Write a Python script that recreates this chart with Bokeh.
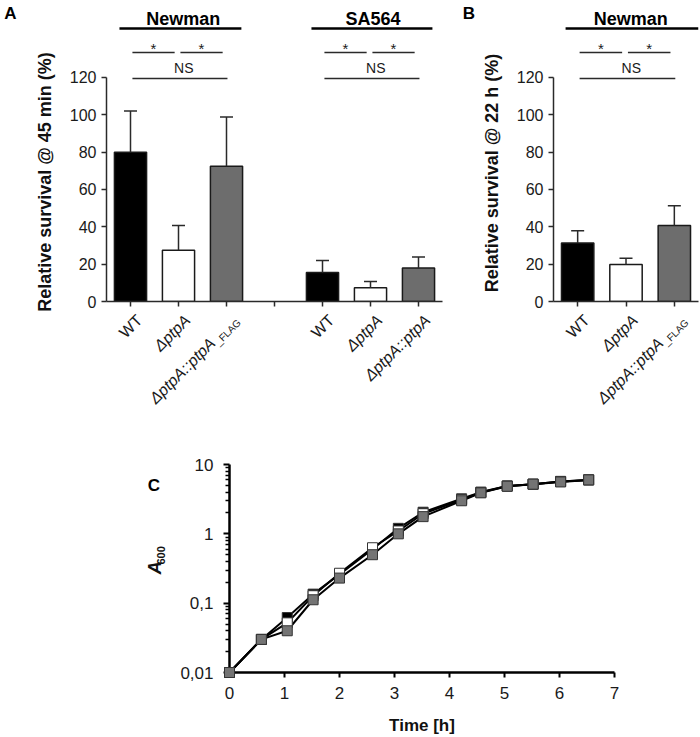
import math
from bokeh.plotting import figure
from bokeh.models import Range1d, FixedTicker, Label
from bokeh.layouts import column, row
from bokeh.embed import file_html
from bokeh.resources import INLINE

FONT = "Liberation Sans"

# ---------------- data ----------------
newman_strains = ["WT", "ΔptpA", "ΔptpA::ptpA_FLAG"]
sa564_strains = ["WT", "ΔptpA", "ΔptpA::ptpA"]
survival_45min_newman = [80.0, 27.5, 72.5]
survival_45min_newman_sd = [22.0, 13.2, 26.3]
survival_45min_sa564 = [15.5, 7.3, 17.9]
survival_45min_sa564_sd = [6.5, 3.4, 6.0]
survival_22h_newman = [31.4, 19.8, 40.7]
survival_22h_newman_sd = [6.5, 3.4, 10.6]
survival_ticks = [0, 20, 40, 60, 80, 100, 120]
significance = [(0, 1, "*"), (1, 2, "*"), (0, 2, "NS")]

time_h = [0, 0.58, 1.05, 1.52, 2.0, 2.6, 3.07, 3.52, 4.22, 4.57, 5.05, 5.52, 6.02, 6.53]
a600_wt = [0.01, 0.03, 0.062, 0.135, 0.26, 0.60, 1.20, 2.05, 3.20, 4.00, 4.90, 5.20, 5.70, 6.00]
a600_dptpA = [0.01, 0.03, 0.052, 0.128, 0.27, 0.63, 1.10, 1.95, 3.10, 3.95, 4.90, 5.20, 5.70, 6.00]
a600_comp = [0.01, 0.03, 0.040, 0.112, 0.23, 0.50, 1.00, 1.77, 3.00, 3.90, 4.85, 5.20, 5.60, 6.00]
time_ticks = [0, 1, 2, 3, 4, 5, 6, 7]
a600_ticks = [0.01, 0.1, 1, 10]
a600_tick_labels = ["0,01", "0,1", "1", "10"]

# ---------------- styles ----------------
BAR_COLORS = ["#000000", "#ffffff", "#6d6d6d"]
AX = "#2a2a2a"
TXT = "#1a1a1a"
PXY = 1.8667          # px per % unit in panels A and B
FRAME_BOTTOM = 301    # page y of the 0 % line
Y_TOP = FRAME_BOTTOM / PXY
TOP_H = 412
MAIN_H = 311


def blank_fig(width, height, x_range, y_range, left=0, right=0):
    p = figure(width=width, height=height, x_range=x_range, y_range=y_range,
               x_axis_location=None, y_axis_location=None,
               min_border_left=left, min_border_right=right, min_border_top=0,
               min_border_bottom=0, output_backend="svg", toolbar_location=None, tools="")
    p.outline_line_color = None
    p.grid.visible = False
    return p


def add_text(p, x, y, text, size, style="normal", angle=0.0, align="center",
             baseline="middle", color=TXT, xo=0.0, yo=0.0):
    p.add_layout(Label(x=x, y=y, text=text, angle=angle, text_align=align,
                       text_baseline=baseline, x_offset=xo, y_offset=yo,
                       text_font=FONT, text_font_size=size, text_font_style=style,
                       text_color=color))


def base_bar_fig(width, left, right, nslots):
    p = figure(width=width, height=MAIN_H, x_range=Range1d(-0.5, nslots - 0.5),
               y_range=Range1d(0, Y_TOP), min_border_left=left, min_border_right=right,
               min_border_top=0, min_border_bottom=MAIN_H - FRAME_BOTTOM,
               output_backend="svg", toolbar_location=None, tools="")
    p.outline_line_color = None
    p.grid.visible = False
    xa, ya = p.xaxis[0], p.yaxis[0]
    xa.ticker = FixedTicker(ticks=list(range(nslots)))
    xa.major_label_overrides = {i: "" for i in range(nslots)}
    xa.major_label_text_font_size = "1px"
    xa.major_label_standoff = 0
    xa.major_tick_out = 5
    xa.major_tick_in = 0
    xa.minor_tick_line_color = None
    xa.axis_line_width = 1.5
    xa.axis_line_color = AX
    xa.major_tick_line_color = AX
    xa.major_tick_line_width = 1.5
    ya.ticker = FixedTicker(ticks=survival_ticks)
    ya.bounds = (0, 120)
    ya.major_tick_out = 5
    ya.major_tick_in = 0
    ya.minor_tick_line_color = None
    ya.axis_line_width = 1.5
    ya.axis_line_color = AX
    ya.major_tick_line_color = AX
    ya.major_tick_line_width = 1.5
    ya.major_label_text_font = FONT
    ya.major_label_text_font_size = "16px"
    ya.major_label_text_color = TXT
    ya.major_label_standoff = 5
    return p


def draw_bars(p, xs, vals, sds, slot_px):
    p.vbar(x=xs, top=vals, width=0.67, fill_color=BAR_COLORS, line_color="#1a1a1a", line_width=1.5)
    tops = [v + s for v, s in zip(vals, sds)]
    p.segment(x0=xs, y0=vals, x1=xs, y1=tops, line_color=AX, line_width=1.5)
    cap = 6.5 / slot_px
    p.segment(x0=[x - cap for x in xs], y0=tops, x1=[x + cap for x in xs], y1=tops,
              line_color=AX, line_width=1.5)


def ypx(py):
    return (FRAME_BOTTOM - py) / PXY


def draw_header(p, title, x0, xs, header_span, title_dx):
    p.segment(x0=[x0 + header_span[0]], y0=[ypx(28)], x1=[x0 + header_span[1]], y1=[ypx(28)],
              line_color="black", line_width=2.5)
    add_text(p, x0 + 1 + title_dx, ypx(18), title, "18px", style="bold", color="black")
    for a, b, lab in significance:
        if lab == "*":
            xa, xb, yy = xs[a] + 0.04, xs[b] - 0.08, ypx(52)
            p.segment(x0=[xa], y0=[yy], x1=[xb], y1=[yy], line_color=AX, line_width=1.3)
            add_text(p, (xa + xb) / 2, ypx(47.5), "*", "15px")
        else:
            xa, xb, yy = xs[a] + 0.04, xs[b] + 0.02, ypx(78)
            p.segment(x0=[xa], y0=[yy], x1=[xb], y1=[yy], line_color=AX, line_width=1.3)
            add_text(p, (xa + xb) / 2 + 0.08, ypx(67), lab, "14px")


def tick_labels(strip, xs, labels):
    c = math.cos(math.pi / 4)
    y0 = MAIN_H
    for x, lab in zip(xs, labels):
        style = "normal" if lab == "WT" else "italic"
        if "_" in lab:
            main, sub = lab.split("_", 1)
            d = 8.0
            add_text(strip, x, y0, "_" + sub, "10px", angle=math.pi / 4, align="right",
                     baseline="top", xo=3 + d * c, yo=-d * c)
            w = 32.5
            add_text(strip, x, y0, main, "16px", style=style, angle=math.pi / 4, align="right",
                     baseline="top", xo=3 - w * c, yo=-w * c)
        else:
            add_text(strip, x, y0, lab, "16px", style=style, angle=math.pi / 4, align="right",
                     baseline="top", xo=3)


# ---------------- panel A ----------------
LAB_A_W = 61
A_BORDER_L, A_BORDER_R = 45, 13
A_W = 455 - LAB_A_W
labA = blank_fig(LAB_A_W, TOP_H, Range1d(0, LAB_A_W), Range1d(TOP_H, 0))
add_text(labA, 10, 12.5, "A", "17px", style="bold", color="black")
add_text(labA, 44, 181.5, "Relative survival @ 45 min (%)", "18px", style="bold",
         angle=math.pi / 2, color="#111111")

pA = base_bar_fig(A_W, A_BORDER_L, A_BORDER_R, 7)
SLOT_A = 48.0
xs_newman = [0, 1, 2]
xs_sa564 = [4, 5, 6]
draw_bars(pA, xs_newman, survival_45min_newman, survival_45min_newman_sd, SLOT_A)
draw_bars(pA, xs_sa564, survival_45min_sa564, survival_45min_sa564_sd, SLOT_A)
draw_header(pA, "Newman", 0, xs_newman, (-0.23, 2.31), 0.1)
draw_header(pA, "SA564", 4, xs_sa564, (-0.23, 2.29), 0.05)

stripA = blank_fig(A_W, TOP_H - MAIN_H, pA.x_range, Range1d(TOP_H, MAIN_H),
                   left=A_BORDER_L, right=A_BORDER_R)
tick_labels(stripA, xs_newman, newman_strains)
tick_labels(stripA, xs_sa564, sa564_strains)

# ---------------- panel B ----------------
LAB_B_X0, LAB_B_W = 455, 55
B_BORDER_L, B_BORDER_R = 43, 2
B_W = 700 - LAB_B_X0 - LAB_B_W
labB = blank_fig(LAB_B_W, TOP_H, Range1d(LAB_B_X0, LAB_B_X0 + LAB_B_W), Range1d(TOP_H, 0))
add_text(labB, 468.5, 12.5, "B", "17px", style="bold", color="black")
add_text(labB, 491, 172.5, "Relative survival @ 22 h (%)", "18px", style="bold",
         angle=math.pi / 2, color="#111111")

pB = base_bar_fig(B_W, B_BORDER_L, B_BORDER_R, 3)
SLOT_B = (B_W - B_BORDER_L - B_BORDER_R) / 3
draw_bars(pB, xs_newman, survival_22h_newman, survival_22h_newman_sd, SLOT_B)
draw_header(pB, "Newman", 0, xs_newman, (-0.25, 2.5), 0.1)

stripB = blank_fig(B_W, TOP_H - MAIN_H, pB.x_range, Range1d(TOP_H, MAIN_H),
                   left=B_BORDER_L, right=B_BORDER_R)
tick_labels(stripB, xs_newman, newman_strains)

# ---------------- panel C ----------------
C_TOP = TOP_H
C_H = 737 - C_TOP
C_FRAME_TOP = 464
LAB_C_W = 172
labC = blank_fig(LAB_C_W, C_H, Range1d(0, LAB_C_W), Range1d(C_TOP + C_H, C_TOP))
add_text(labC, 153.3, 445, "C", "17px", style="bold", color="black")
add_text(labC, 154.5, 573.5, "A", "18px", style="bold italic", angle=math.pi / 2,
         color="#111111")
add_text(labC, 160.5, 554, "600", "11px", style="bold", angle=math.pi / 2, color="#111111")

pC = figure(width=700 - LAB_C_W, height=C_H, x_range=Range1d(0, 7), y_range=Range1d(0.01, 10),
            y_axis_type="log", min_border_left=229 - LAB_C_W, min_border_right=86,
            min_border_top=C_FRAME_TOP - C_TOP, min_border_bottom=64, output_backend="svg",
            toolbar_location=None, tools="")
pC.outline_line_color = None
pC.grid.visible = False
cxa, cya = pC.xaxis[0], pC.yaxis[0]
cxa.ticker = FixedTicker(ticks=time_ticks)
cxa.axis_line_width = 2.5
cxa.axis_line_color = "black"
cxa.major_tick_out = 5
cxa.major_tick_in = 0
cxa.major_tick_line_width = 2
cxa.minor_tick_line_color = None
cxa.major_label_text_font = FONT
cxa.major_label_text_font_size = "17px"
cxa.major_label_text_color = TXT
cxa.major_label_standoff = 9
cxa.axis_label = "Time [h]"
cxa.axis_label_text_font = FONT
cxa.axis_label_text_font_size = "17px"
cxa.axis_label_text_font_style = "bold"
cxa.axis_label_text_color = "#111111"
cxa.axis_label_standoff = 14

minor = [m * 10.0 ** e for e in (-2, -1, 0) for m in range(2, 10)]
cya.ticker = FixedTicker(ticks=a600_ticks, minor_ticks=minor)
cya.major_label_overrides = dict(zip(a600_ticks, a600_tick_labels))
cya.axis_line_width = 2.5
cya.axis_line_color = "black"
cya.major_tick_out = 6
cya.major_tick_in = 0
cya.major_tick_line_width = 2
cya.minor_tick_out = 4
cya.minor_tick_in = 0
cya.minor_tick_line_width = 1.5
cya.minor_tick_line_color = "black"
cya.major_label_text_font = FONT
cya.major_label_text_font_size = "17px"
cya.major_label_text_color = TXT
cya.major_label_standoff = 10

series = ((a600_wt, "#000000"), (a600_dptpA, "#ffffff"), (a600_comp, "#747474"))
for ys, fc in series:
    pC.line(time_h, ys, line_color="black", line_width=2, level="overlay")
for ys, fc in series:
    pC.scatter(time_h, ys, marker="square", size=10, fill_color=fc, line_color="#333333",
               line_width=1, level="overlay")

layout = column(
    row(labA, column(pA, stripA, spacing=0), labB, column(pB, stripB, spacing=0), spacing=0),
    row(labC, pC, spacing=0),
    spacing=0,
)
open("out.html", "w").write(file_html(layout, INLINE))
